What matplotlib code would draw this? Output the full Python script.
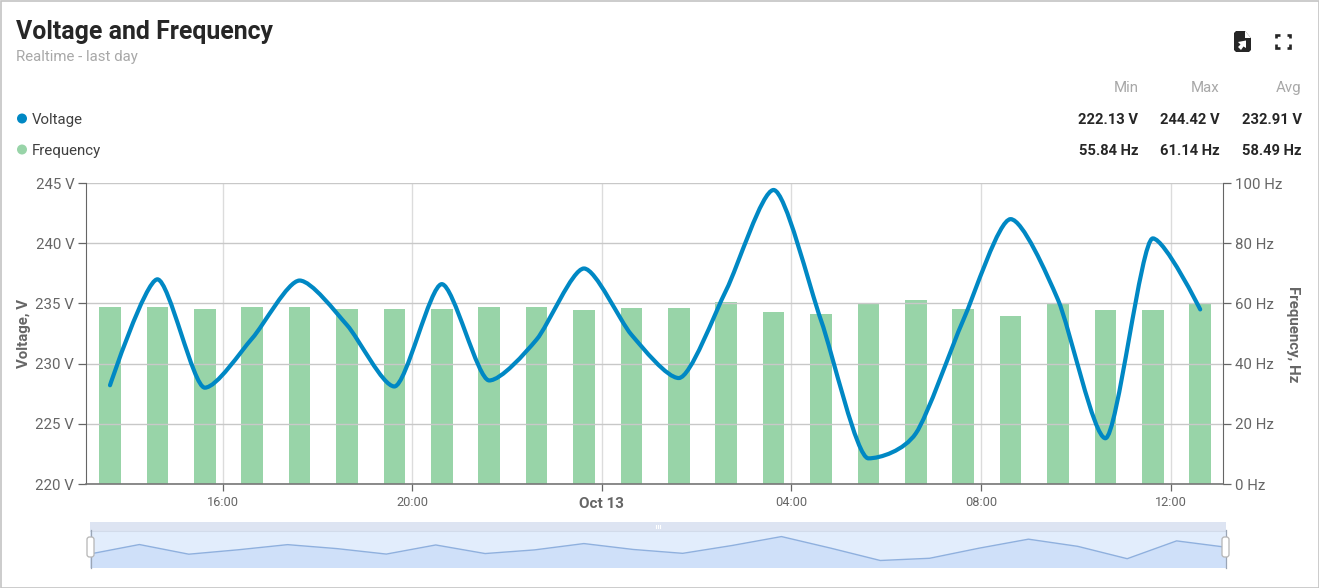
import matplotlib
matplotlib.use("Agg")
import matplotlib.pyplot as plt
from matplotlib.path import Path
from matplotlib.patches import PathPatch, Rectangle, Circle, FancyBboxPatch, Polygon

plt.rcParams['font.family'] = ['Roboto', 'DejaVu Sans']

title = "Voltage and Frequency"
subtitle = "Realtime - last day"
series_names = ["Voltage", "Frequency"]
stat_headers = ["Min", "Max", "Avg"]
voltage_stats = ["222.13 V", "244.42 V", "232.91 V"]
frequency_stats = ["55.84 Hz", "61.14 Hz", "58.49 Hz"]

# hours relative to Oct 13 00:00
hours = [-10.375 + i for i in range(24)]
voltage = [228.2, 237.0, 228.0, 232.1, 236.9, 233.2, 228.1, 236.6, 228.6, 232.0,
           237.9, 232.4, 228.8, 236.1, 244.42, 233.6, 222.13, 224.2, 233.6, 242.0,
           235.3, 223.8, 240.4, 234.5]
frequency = [58.9, 58.8, 58.3, 58.9, 58.7, 58.3, 58.0, 58.3, 58.9, 58.8, 57.9, 58.4,
             58.5, 60.3, 57.0, 56.6, 59.7, 61.14, 58.3, 55.84, 59.9, 57.7, 57.9, 60.2]
x_ticks = [-8, -4, 0, 4, 8, 12]
x_labels = ["16:00", "20:00", "Oct 13", "04:00", "08:00", "12:00"]
v_ticks = [220, 225, 230, 235, 240, 245]
f_ticks = [0, 20, 40, 60, 80, 100]

W, H = 1319, 588
BLUE = "#0088c4"
GREEN = "#98d4a8"
DARK = "#262626"
GREY = "#666666"
LIGHT = "#a8a8a8"


def spline_path(xs, ys, smoothing=3.0):
    """Spline through the data points with short tangent handles."""
    n = len(xs)
    denom = smoothing + 1
    lc, rc = [None] * n, [None] * n
    for i in range(1, n - 1):
        x, y = xs[i], ys[i]
        lx, ly, nx, ny = xs[i - 1], ys[i - 1], xs[i + 1], ys[i + 1]
        lcx = (smoothing * x + lx) / denom
        lcy = (smoothing * y + ly) / denom
        rcx = (smoothing * x + nx) / denom
        rcy = (smoothing * y + ny) / denom
        corr = (rcy - lcy) * (rcx - x) / (rcx - lcx) + y - rcy
        lcy += corr
        rcy += corr
        if lcy > ly and lcy > y:
            lcy = max(ly, y)
            rcy = 2 * y - lcy
        elif lcy < ly and lcy < y:
            lcy = min(ly, y)
            rcy = 2 * y - lcy
        if rcy > ny and rcy > y:
            rcy = max(ny, y)
            lcy = 2 * y - rcy
        elif rcy < ny and rcy < y:
            rcy = min(ny, y)
            lcy = 2 * y - rcy
        lc[i] = (lcx, lcy)
        rc[i] = (rcx, rcy)
    lc[0] = rc[0] = (xs[0], ys[0])
    lc[-1] = rc[-1] = (xs[-1], ys[-1])
    verts = [(xs[0], ys[0])]
    codes = [Path.MOVETO]
    for i in range(1, n):
        verts += [rc[i - 1], lc[i], (xs[i], ys[i])]
        codes += [Path.CURVE4] * 3
    return Path(verts, codes)


fig = plt.figure(figsize=(W / 100, H / 100), dpi=100, facecolor="white")


def rect(l, t, r, b):
    return [l / W, 1 - b / H, (r - l) / W, (b - t) / H]


def px(x, y):
    return x / W, 1 - y / H


# --- main plot ---
ax = fig.add_axes(rect(86, 183, 1223, 484))
ax.set_xlim(-10.375 - 24 / 47.4, -10.375 + (1223 - 110) / 47.4)
ax.set_ylim(220, 245)
ax2 = ax.twinx()
ax2.set_ylim(0, 100)
ax.set_zorder(2)
ax2.set_zorder(1)
ax.patch.set_visible(False)

ax2.bar(hours, frequency, width=21.5 / 47.4, color=GREEN, zorder=3)
ax2.set_axisbelow(True)
ax2.vlines(x_ticks, 0, 100, color="#dcdcdc", lw=1, zorder=1)
ax2.hlines(f_ticks, *ax.get_xlim(), color="#c8c8c8", lw=1, zorder=4)

ax.add_patch(PathPatch(spline_path(hours, voltage), fill=False, edgecolor=BLUE, lw=3.0,
                       capstyle="round", joinstyle="round", zorder=5))

for a in (ax, ax2):
    for s in a.spines.values():
        s.set_visible(False)
ax.spines["left"].set_visible(True)
ax.spines["left"].set_color("#666666")
ax.spines["bottom"].set_visible(True)
ax.spines["bottom"].set_color("#777777")
ax.spines["bottom"].set_linewidth(1.2)
ax2.spines["right"].set_visible(True)
ax2.spines["right"].set_color("#666666")

ax.set_yticks(v_ticks)
ax.set_yticklabels([f"{v} V" for v in v_ticks])
ax.tick_params(axis="y", length=5.5, width=0.9, color="#666666", labelcolor=GREY, labelsize=10.8, pad=3)
ax2.set_yticks(f_ticks)
ax2.set_yticklabels([f"{v} Hz" for v in f_ticks])
ax2.tick_params(axis="y", length=5.5, width=0.9, color="#666666", labelcolor=GREY, labelsize=10.8, pad=3)
ax.set_xticks(x_ticks)
ax.set_xticklabels(x_labels)
ax.tick_params(axis="x", length=5, width=0.9, color="#666666", labelcolor=GREY, labelsize=9.2, pad=4)
for t, lab in zip(ax.get_xticklabels(), x_labels):
    if lab == "Oct 13":
        t.set_fontweight("bold")
        t.set_fontsize(11)

fig.text(*px(24, 333), "Voltage, V", rotation=90, ha="center", va="center",
         color=GREY, fontsize=10.8, fontweight="bold")
fig.text(*px(1293, 334), "Frequency, Hz", rotation=270, ha="center", va="center",
         color=GREY, fontsize=10.8, fontweight="bold")

# --- navigator ---
nav = fig.add_axes(rect(90, 522, 1226, 567.5))
nav.set_xlim(0, 23)
nav.set_ylim(215.6, 258)
nav.set_xticks([])
nav.set_yticks([])
for s in nav.spines.values():
    s.set_visible(False)
nav.set_facecolor("#e2edfc")
idx = list(range(24))
nav.fill_between(idx, voltage, 215.6, color="#cfe0f9", lw=0)
nav.plot(idx, voltage, color="#8fb0de", lw=1)

# --- chrome overlay in pixel coordinates ---
ov = fig.add_axes([0, 0, 1, 1], zorder=10)
ov.set_xlim(0, W)
ov.set_ylim(H, 0)
ov.axis("off")
ov.patch.set_visible(False)
ov.add_patch(Rectangle((0.5, 0.5), W - 1, H - 1, fill=False, ec="#c4c4c4", lw=1.2))
ov.add_patch(Rectangle((90, 522), 1136, 9, fc="#dde4f2", ec="none"))
ov.plot([90, 1226], [531, 531], color="#d2dbea", lw=0.8)
for xh in (90.5, 1225.5):
    ov.plot([xh, xh], [530, 568], color="#9aa5b5", lw=0.9)
    ov.add_patch(FancyBboxPatch((xh - 3.5, 537), 7, 20, boxstyle="round,pad=0,rounding_size=2.5",
                                fc="white", ec="#b5b5b5", lw=0.9, zorder=5))
for dx in (655.5, 657.5, 659.5):
    ov.plot([dx, dx], [524.5, 527.5], color="#ffffff", lw=0.8)

# legend markers
ov.add_patch(Circle((22, 118.5), 5, fc=BLUE, ec="none"))
ov.add_patch(Circle((22, 149.5), 5, fc=GREEN, ec="none"))

# file-export icon
ov.add_patch(Polygon([(1234, 33), (1234, 50), (1236, 52), (1249, 52), (1251, 50), (1251, 38), (1245, 31), (1236, 31)],
                     closed=True, fc=DARK, ec="none", joinstyle="round"))
ov.add_patch(Polygon([(1245, 31), (1245, 38), (1251, 38)], closed=True, fc="white", ec="none"))
ov.add_patch(Polygon([(1238, 42), (1246, 40.5), (1246, 48), (1243.5, 46.5), (1241, 50), (1238, 47), (1240.5, 44.5)],
                     closed=True, fc="white", ec="none"))
# fullscreen icon
for pts in ([(1276, 38), (1276, 35), (1279.5, 35)], [(1286.5, 35), (1290, 35), (1290, 38)],
            [(1276, 44), (1276, 47.5), (1279.5, 47.5)], [(1286.5, 47.5), (1290, 47.5), (1290, 44)]):
    ov.plot(*zip(*pts), color=DARK, lw=1.9, solid_joinstyle="miter", solid_capstyle="butt")

# texts
ov.text(16, 31.5, title, fontsize=17.9, fontweight="bold", color=DARK, va="center", ha="left")
ov.text(16, 56.5, subtitle, fontsize=10.8, color=LIGHT, va="center", ha="left")
ov.text(32, 120, series_names[0], fontsize=10.8, color="#404040", va="center", ha="left")
ov.text(32, 151, series_names[1], fontsize=10.8, color="#404040", va="center", ha="left")
col_right = [1138.5, 1220, 1301.5]
for xr, head, vs, fs in zip(col_right, stat_headers, voltage_stats, frequency_stats):
    ov.text(xr, 88, head, fontsize=10.8, color=LIGHT, va="center", ha="right")
    ov.text(xr, 120, vs, fontsize=10.6, fontweight="bold", color=DARK, va="center", ha="right")
    ov.text(xr, 151, fs, fontsize=10.6, fontweight="bold", color=DARK, va="center", ha="right")

fig.savefig("out.png", dpi=100, facecolor="white")
